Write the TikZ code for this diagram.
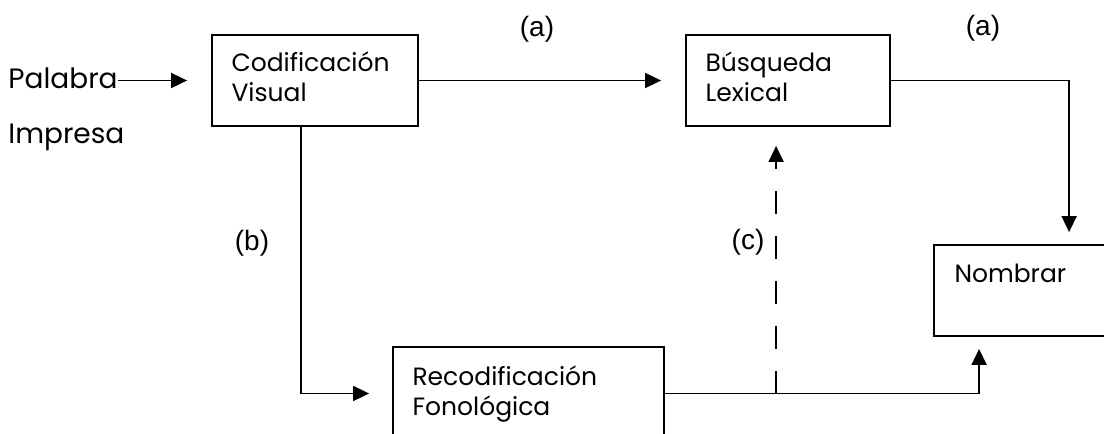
\documentclass[tikz,border=0pt]{standalone}
\usepackage{fontspec}
\setmainfont{Liberation Sans}
\newfontfamily\gothic{Poppins}
\usetikzlibrary{positioning,arrows.meta,calc}

\begin{document}
\begin{tikzpicture}[
    x = 0.5pt, y = -0.5pt,
    box/.style = {draw, line width = 0.9pt, inner sep = 0pt},
    txt/.style = {font = \gothic\fontsize{12.5}{15}\selectfont, anchor = base west, inner sep = 0pt, align = left},
    big/.style = {font = \gothic\fontsize{14}{17}\selectfont, anchor = base west, inner sep = 0pt},
    tag/.style = {font = \fontsize{14}{16}\selectfont},
    link/.style = {line width = 0.9pt},
    >={Triangle[length = 8pt, width = 7.5pt]}
]
    \useasboundingbox (0,0) rectangle (1104,434);
    \clip (0,0) rectangle (1104,434);

    % boxes
    \node[box, minimum width = 103pt, minimum height = 45.5pt] (cv) at (315,80.5) {};
    \node[box, minimum width = 102pt, minimum height = 45.5pt] (bl) at (788,80.5) {};
    \node[box, minimum width = 90.5pt, minimum height = 45.5pt] (nb) at (1024.5,290.5) {};
    \node[box, minimum width = 135.5pt, minimum height = 46.5pt] (rf) at (528.5,393.5) {};

    % texts (base = last line)
    \node[txt] (cvtxt) at ([shift = {(20,67)}]cv.north west) {Codificación\\Visual};
    \node[txt] (bltxt) at ([shift = {(20,67)}]bl.north west) {Búsqueda\\Lexical};
    \node[txt] (nbtxt) at ([shift = {(21,38)}]nb.north west) {Nombrar};
    \node[txt] (rftxt) at ([shift = {(20,69)}]rf.north west) {Recodificación\\Fonológica};
    \node[big] (pal) at (8,88) {Palabra};
    \node[big] (imp) at (8,143) {Impresa};

    \node[tag] (a1) at (537,29) {(a)};
    \node[tag] (a2) at (983,28) {(a)};
    \node[tag] (b) at (252,243) {(b)};
    \node[tag] (c) at (748,242) {(c)};

    % connectors
    \draw[link, ->, shorten > = 12pt] (pal.east |- cv.west) -- (cv.west);
    \draw[link, ->, shorten > = 12pt] (cv.east) -- (bl.west);
    \draw[link, ->, shorten > = 6pt] (bl.east) -| ([xshift = 68pt]nb.north west);
    \draw[link, ->, shorten > = 11.5pt] ([xshift = 45pt]cv.south west) |- (rf.west);
    \draw[link, ->, shorten > = 6pt] (rf.east) -| ([xshift = 23pt]nb.south west);
    \draw[link, ->, dash pattern = on 11.5pt off 11pt, shorten > = 9.5pt]
        ([xshift = 45.5pt]bl.south west |- rf.east) -- ([xshift = 45.5pt]bl.south west);
\end{tikzpicture}
\end{document}
